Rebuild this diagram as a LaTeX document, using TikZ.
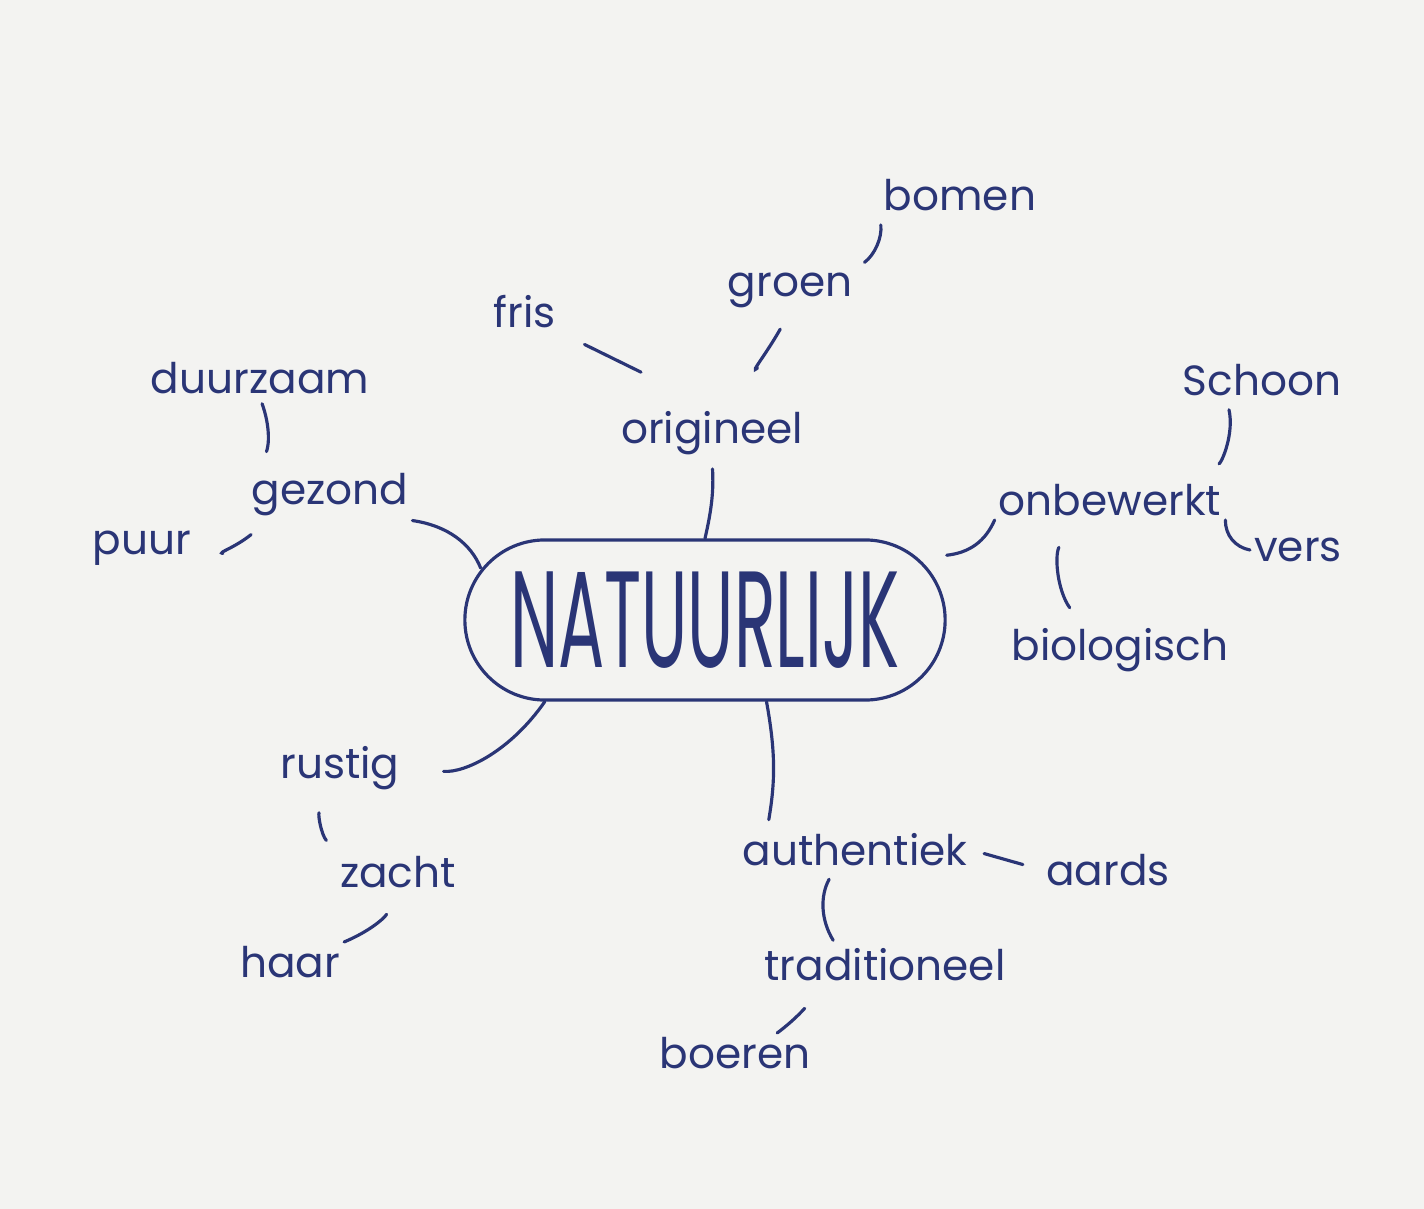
\documentclass[tikz,border=0pt]{standalone}
\usepackage{fontspec}
\setmainfont{Poppins}
\usepackage{graphicx}
\usetikzlibrary{positioning}
\definecolor{ink}{HTML}{2A3576}
\definecolor{paper}{HTML}{F3F3F1}
\tikzset{
  wordbox/.style={
    inner sep=1pt, text=ink, font=\fontsize{12}{14}\selectfont
  },
  keybox/.style={
    rectangle, rounded corners=0.8cm, draw=ink, line width=0.9pt,
    minimum width=4.8cm, minimum height=1.6cm, text=ink,
    font=\fontsize{19.5}{21}\selectfont
  },
  linkstyle/.style={
    draw=ink, line width=0.9pt, line cap=round
  },
}

\begin{document}
\begin{tikzpicture}[x=0.01cm, y=-0.01cm]
  \fill[paper] (0,0) rectangle (1424,1209);
  \useasboundingbox (0,0) rectangle (1424,1209);

  % centre word
  \node[keybox] (nat) at (705,620) {\scalebox{1}[2.0]{NATUURLIJK}};

  % words round it
  \node[wordbox] (bomen)   at (960,195)  {bomen};
  \node[wordbox] (groen)   at (790,290)  {groen};
  \node[wordbox] (fris)    at (525,312)  {fris};
  \node[wordbox] (orig)    at (712,433)  {origineel};
  \node[wordbox] (duur)    at (260,378)  {duurzaam};
  \node[wordbox] (gezond)  at (330,495)  {gezond};
  \node[wordbox] (puur)    at (142,548)  {puur};
  \node[wordbox] (schoon)  at (1262,380) {Schoon};
  \node[wordbox] (onbew)   at (1110,500) {onbewerkt};
  \node[wordbox] (vers)    at (1298,550) {vers};
  \node[wordbox] (bio)     at (1120,650) {biologisch};
  \node[wordbox] (rustig)  at (340,768)  {rustig};
  \node[wordbox] (zacht)   at (398,872)  {zacht};
  \node[wordbox] (haar)    at (290,962)  {haar};
  \node[wordbox] (auth)    at (855,850)  {authentiek};
  \node[wordbox] (aards)   at (1108,870) {aards};
  \node[wordbox] (trad)    at (885,965)  {traditioneel};
  \node[wordbox] (boeren)  at (735,1053) {boeren};

  % strokes
  \draw[linkstyle, shorten <=0.1cm, shorten >=0.1cm] (bomen.south west) to[bend left=30] (groen.north east);
  \draw[linkstyle, shorten <=0.2cm, shorten >=0.6cm] (groen.south) to[bend left=10] (orig.north);
  \draw[linkstyle, shorten <=0.27cm, shorten >=0.79cm] (fris.south east) -- (orig.north);
  \draw[linkstyle, shorten <=0.1cm] (orig.south) to[bend left=8] (nat.north);
  \draw[linkstyle, shorten <=0.06cm, shorten >=0.19cm] (duur.south) to[bend left=20] (duur.south |- gezond.north);
  \draw[linkstyle, shorten <=0.28cm] (puur.east) to[bend right=25] ([xshift=1pt,yshift=-4pt]gezond.south west);
  \draw[linkstyle, shorten >=0.1cm] (gezond.south east) to[bend left=30] ([xshift=6pt]nat.170);
  \draw[linkstyle] (nat.15) to[bend right=30] (onbew.south west);
  \draw[linkstyle, shorten <=0.1cm, shorten >=0.3cm] ([xshift=-10pt]schoon.south) to[bend left=35] ([xshift=-9pt]onbew.north east);
  \draw[linkstyle] (onbew.south east) to[bend right=40] (vers.west);
  \draw[linkstyle, shorten <=0.3cm, shorten >=0.2cm] ([xshift=-11pt]onbew.south) to[bend right=30] ([xshift=-11pt]bio.north);
  \draw[linkstyle, shorten <=0.4cm] (rustig.east) to[bend right=30] (nat.207);
  \draw[linkstyle, shorten <=0.2cm, shorten >=0.15cm] ([xshift=-4pt]rustig.south) to[bend right=30] (zacht.north west);
  \draw[linkstyle, shorten >=0.25cm] (haar.north east) to[bend right=20] (zacht.south);
  \draw[linkstyle, shorten >=0.1cm] (nat.307) to[bend left=10] ([xshift=-25pt]auth.north);
  \draw[linkstyle, shorten <=0.13cm, shorten >=0.2cm] (auth.east) -- (aards.west);
  \draw[linkstyle, shorten <=0.1cm, shorten >=0.05cm] ([xshift=-6pt]auth.south) to[bend right=30] ([xshift=-14pt]trad.north);
  \draw[linkstyle, shorten >=0.25cm] ([xshift=12pt]boeren.north) to[bend right=15] ([xshift=-20pt]trad.south);
\end{tikzpicture}
\end{document}
